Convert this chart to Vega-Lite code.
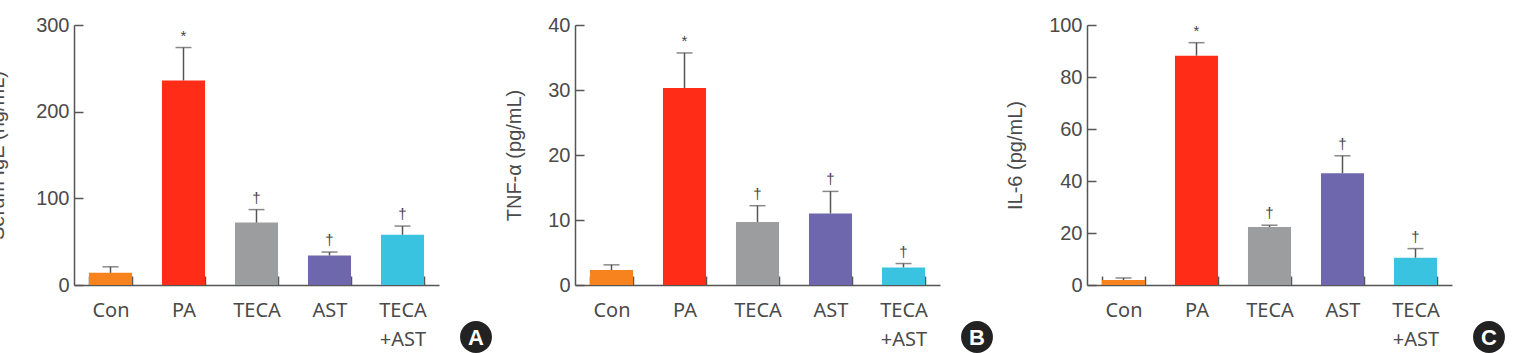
{
  "$schema": "https://vega.github.io/schema/vega-lite/v6.json",
  "background": "white",
  "padding": {"left": -13, "top": 15, "right": 0, "bottom": 0},
  "spacing": 12,
  "data": {
    "values": [
      {"panel": "A", "group": "Con", "mean": 14, "upper": 21, "sig": ""},
      {"panel": "A", "group": "PA", "mean": 236, "upper": 274, "sig": "*"},
      {"panel": "A", "group": "TECA", "mean": 72, "upper": 87, "sig": "†"},
      {"panel": "A", "group": "AST", "mean": 34, "upper": 38, "sig": "†"},
      {"panel": "A", "group": "TECA+AST", "mean": 58, "upper": 68, "sig": "†"},
      {"panel": "B", "group": "Con", "mean": 2.3, "upper": 3.1, "sig": ""},
      {"panel": "B", "group": "PA", "mean": 30.3, "upper": 35.7, "sig": "*"},
      {"panel": "B", "group": "TECA", "mean": 9.7, "upper": 12.2, "sig": "†"},
      {"panel": "B", "group": "AST", "mean": 11.0, "upper": 14.4, "sig": "†"},
      {"panel": "B", "group": "TECA+AST", "mean": 2.7, "upper": 3.3, "sig": "†"},
      {"panel": "C", "group": "Con", "mean": 1.9, "upper": 2.7, "sig": ""},
      {"panel": "C", "group": "PA", "mean": 88.2, "upper": 93.2, "sig": "*"},
      {"panel": "C", "group": "TECA", "mean": 22.3, "upper": 23.0, "sig": "†"},
      {"panel": "C", "group": "AST", "mean": 43.0, "upper": 49.7, "sig": "†"},
      {"panel": "C", "group": "TECA+AST", "mean": 10.5, "upper": 14.0, "sig": "†"}
    ]
  },
  "config": {
    "view": {"stroke": null},
    "axis": {
      "grid": false,
      "domainColor": "#555555",
      "domainWidth": 1.5,
      "tickColor": "#555555",
      "tickWidth": 1.5,
      "tickSize": -9,
      "labelColor": "#4a4a4a",
      "titleColor": "#4a4a4a",
      "labelFontSize": 20,
      "titleFontSize": 20,
      "titleFontWeight": "normal"
    },
    "axisX": {
      "labelFont": "Noto Sans",
      "labelAngle": 0,
      "labelPadding": 24,
      "labelLineHeight": 29,
      "tickBand": "extent",
      "labelExpr": "datum.label == 'TECA+AST' ? ['TECA', '+AST'] : datum.label"
    },
    "axisY": {
      "labelFont": "Liberation Sans",
      "titleFont": "Liberation Sans",
      "labelPadding": 14,
      "titlePadding": 23
    }
  },
  "hconcat": [
    {
      "width": 365,
      "height": 260,
      "transform": [{"filter": "datum.panel === 'A'"}],
      "encoding": {
        "x": {
          "field": "group", "type": "nominal",
          "sort": ["Con", "PA", "TECA", "AST", "TECA+AST"],
          "scale": {"paddingInner": 0.41, "paddingOuter": 0.205},
          "axis": {"title": null}
        }
      },
      "layer": [
        {
          "mark": {"type": "bar"},
          "encoding": {
            "y": {"field": "mean", "type": "quantitative", "scale": {"domain": [0, 300], "nice": false}, "axis": {"values": [0, 100, 200, 300], "title": "Serum IgE (ng/mL)", "titlePadding": 28}},
            "color": {"field": "group", "type": "nominal", "legend": null,
              "scale": {"domain": ["Con", "PA", "TECA", "AST", "TECA+AST"], "range": ["#f7831f", "#ff2d17", "#9c9d9f", "#6f67ad", "#3ac3e0"]}}
          }
        },
        {
          "mark": {"type": "rule", "color": "#555555", "strokeWidth": 1.5},
          "encoding": {"y": {"field": "mean", "type": "quantitative"}, "y2": {"field": "upper"}}
        },
        {
          "mark": {"type": "tick", "color": "#555555", "size": 16, "thickness": 1.5},
          "encoding": {"y": {"field": "upper", "type": "quantitative"}}
        },
        {
          "mark": {"type": "text", "font": "Liberation Sans", "fontSize": 15, "color": "#444444", "baseline": "middle", "dy": -12},
          "encoding": {"y": {"field": "upper", "type": "quantitative"}, "text": {"field": "sig"}}
        },
        {
          "transform": [{"filter": "datum.group === 'TECA+AST'"}],
          "mark": {"type": "point", "shape": "circle", "filled": true, "opacity": 1, "color": "#222222", "size": 1018, "xOffset": 73.5, "yOffset": 52},
          "encoding": {"y": {"datum": 0, "type": "quantitative"}}
        },
        {
          "transform": [{"filter": "datum.group === 'TECA+AST'"}],
          "mark": {"type": "text", "font": "Liberation Sans", "fontWeight": "bold", "fontSize": 22, "color": "white", "baseline": "middle", "xOffset": 73.5, "yOffset": 53},
          "encoding": {"y": {"datum": 0, "type": "quantitative"}, "text": {"field": "panel"}}
        }
      ]
    },
    {
      "width": 365,
      "height": 260,
      "transform": [{"filter": "datum.panel === 'B'"}],
      "encoding": {
        "x": {
          "field": "group", "type": "nominal",
          "sort": ["Con", "PA", "TECA", "AST", "TECA+AST"],
          "scale": {"paddingInner": 0.41, "paddingOuter": 0.205},
          "axis": {"title": null}
        }
      },
      "layer": [
        {
          "mark": {"type": "bar"},
          "encoding": {
            "y": {"field": "mean", "type": "quantitative", "scale": {"domain": [0, 40], "nice": false}, "axis": {"values": [0, 10, 20, 30, 40], "title": "TNF-α (pg/mL)"}},
            "color": {"field": "group", "type": "nominal", "legend": null,
              "scale": {"domain": ["Con", "PA", "TECA", "AST", "TECA+AST"], "range": ["#f7831f", "#ff2d17", "#9c9d9f", "#6f67ad", "#3ac3e0"]}}
          }
        },
        {
          "mark": {"type": "rule", "color": "#555555", "strokeWidth": 1.5},
          "encoding": {"y": {"field": "mean", "type": "quantitative"}, "y2": {"field": "upper"}}
        },
        {
          "mark": {"type": "tick", "color": "#555555", "size": 16, "thickness": 1.5},
          "encoding": {"y": {"field": "upper", "type": "quantitative"}}
        },
        {
          "mark": {"type": "text", "font": "Liberation Sans", "fontSize": 15, "color": "#444444", "baseline": "middle", "dy": -12},
          "encoding": {"y": {"field": "upper", "type": "quantitative"}, "text": {"field": "sig"}}
        },
        {
          "transform": [{"filter": "datum.group === 'TECA+AST'"}],
          "mark": {"type": "point", "shape": "circle", "filled": true, "opacity": 1, "color": "#222222", "size": 1018, "xOffset": 73.5, "yOffset": 52},
          "encoding": {"y": {"datum": 0, "type": "quantitative"}}
        },
        {
          "transform": [{"filter": "datum.group === 'TECA+AST'"}],
          "mark": {"type": "text", "font": "Liberation Sans", "fontWeight": "bold", "fontSize": 22, "color": "white", "baseline": "middle", "xOffset": 73.5, "yOffset": 53},
          "encoding": {"y": {"datum": 0, "type": "quantitative"}, "text": {"field": "panel"}}
        }
      ]
    },
    {
      "width": 365,
      "height": 260,
      "transform": [{"filter": "datum.panel === 'C'"}],
      "encoding": {
        "x": {
          "field": "group", "type": "nominal",
          "sort": ["Con", "PA", "TECA", "AST", "TECA+AST"],
          "scale": {"paddingInner": 0.41, "paddingOuter": 0.205},
          "axis": {"title": null}
        }
      },
      "layer": [
        {
          "mark": {"type": "bar"},
          "encoding": {
            "y": {"field": "mean", "type": "quantitative", "scale": {"domain": [0, 100], "nice": false}, "axis": {"values": [0, 20, 40, 60, 80, 100], "title": "IL-6 (pg/mL)"}},
            "color": {"field": "group", "type": "nominal", "legend": null,
              "scale": {"domain": ["Con", "PA", "TECA", "AST", "TECA+AST"], "range": ["#f7831f", "#ff2d17", "#9c9d9f", "#6f67ad", "#3ac3e0"]}}
          }
        },
        {
          "mark": {"type": "rule", "color": "#555555", "strokeWidth": 1.5},
          "encoding": {"y": {"field": "mean", "type": "quantitative"}, "y2": {"field": "upper"}}
        },
        {
          "mark": {"type": "tick", "color": "#555555", "size": 16, "thickness": 1.5},
          "encoding": {"y": {"field": "upper", "type": "quantitative"}}
        },
        {
          "mark": {"type": "text", "font": "Liberation Sans", "fontSize": 15, "color": "#444444", "baseline": "middle", "dy": -12},
          "encoding": {"y": {"field": "upper", "type": "quantitative"}, "text": {"field": "sig"}}
        },
        {
          "transform": [{"filter": "datum.group === 'TECA+AST'"}],
          "mark": {"type": "point", "shape": "circle", "filled": true, "opacity": 1, "color": "#222222", "size": 1018, "xOffset": 73.5, "yOffset": 52},
          "encoding": {"y": {"datum": 0, "type": "quantitative"}}
        },
        {
          "transform": [{"filter": "datum.group === 'TECA+AST'"}],
          "mark": {"type": "text", "font": "Liberation Sans", "fontWeight": "bold", "fontSize": 22, "color": "white", "baseline": "middle", "xOffset": 73.5, "yOffset": 53},
          "encoding": {"y": {"datum": 0, "type": "quantitative"}, "text": {"field": "panel"}}
        }
      ]
    }
  ]
}
